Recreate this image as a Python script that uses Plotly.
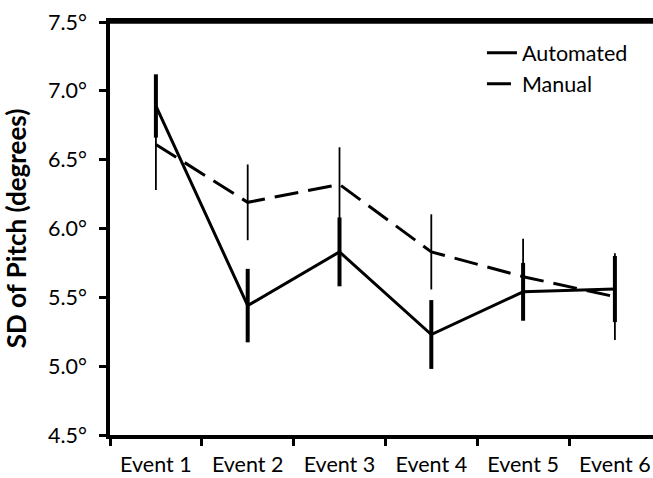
import plotly.graph_objects as go

categories = ["Event 1", "Event 2", "Event 3", "Event 4", "Event 5", "Event 6"]
automated = [6.89, 5.44, 5.83, 5.23, 5.54, 5.56]
automated_err = [0.23, 0.267, 0.25, 0.25, 0.21, 0.24]
manual = [6.61, 6.19, 6.32, 5.83, 5.65, 5.505]
manual_err = [0.33, 0.275, 0.27, 0.273, 0.275, 0.315]
y_ticks = [4.5, 5.0, 5.5, 6.0, 6.5, 7.0, 7.5]

FONT = "Lato"

fig = go.Figure()
fig.add_trace(go.Scatter(
    x=categories, y=manual, name="Manual", mode="lines",
    line=dict(color="black", width=3, dash="24px,10px"),
    error_y=dict(type="data", array=manual_err, visible=True,
                 thickness=1.8, width=0, color="black"),
    legendrank=2, legendgroup="m",
))
fig.add_trace(go.Scatter(
    x=categories, y=automated, name="Automated", mode="lines",
    line=dict(color="black", width=3),
    error_y=dict(type="data", array=automated_err, visible=True,
                 thickness=4, width=0, color="black"),
    legendrank=1, legendgroup="a",
))

fig.update_layout(
    width=653, height=478,
    margin=dict(l=110, r=0, t=22, b=43),
    plot_bgcolor="white", paper_bgcolor="white",
    font=dict(family=FONT, size=21.5, color="black"),
    showlegend=True,
    legend=dict(x=0.685, y=0.975, xanchor="left", yanchor="top",
                bgcolor="rgba(0,0,0,0)", font=dict(size=21.5),
                traceorder="grouped", tracegroupgap=0),
    xaxis=dict(
        type="category", categoryorder="array", categoryarray=categories,
        range=[-0.5, 5.415], tickson="boundaries",
        ticks="outside", ticklen=7, tickwidth=3, tickcolor="black",
        showline=True, linewidth=3.5, linecolor="black", mirror=True,
        showgrid=False, zeroline=False, ticklabelstandoff=7,
    ),
    yaxis=dict(
        range=[4.5, 7.5], tickvals=y_ticks,
        ticktext=[f"{v:.1f}°" for v in y_ticks],
        ticks="outside", ticklen=7, tickwidth=3, tickcolor="black",
        showline=True, linewidth=3.5, linecolor="black",
        showgrid=False, zeroline=False, ticklabelstandoff=8,
        title=dict(text="<b>SD of Pitch (degrees)</b>", standoff=15),
    ),
    shapes=[dict(type="line", xref="paper", yref="paper",
                 x0=0, x1=1, y0=1, y1=1,
                 line=dict(color="black", width=3.5))],
)

fig.write_html("out.html")
